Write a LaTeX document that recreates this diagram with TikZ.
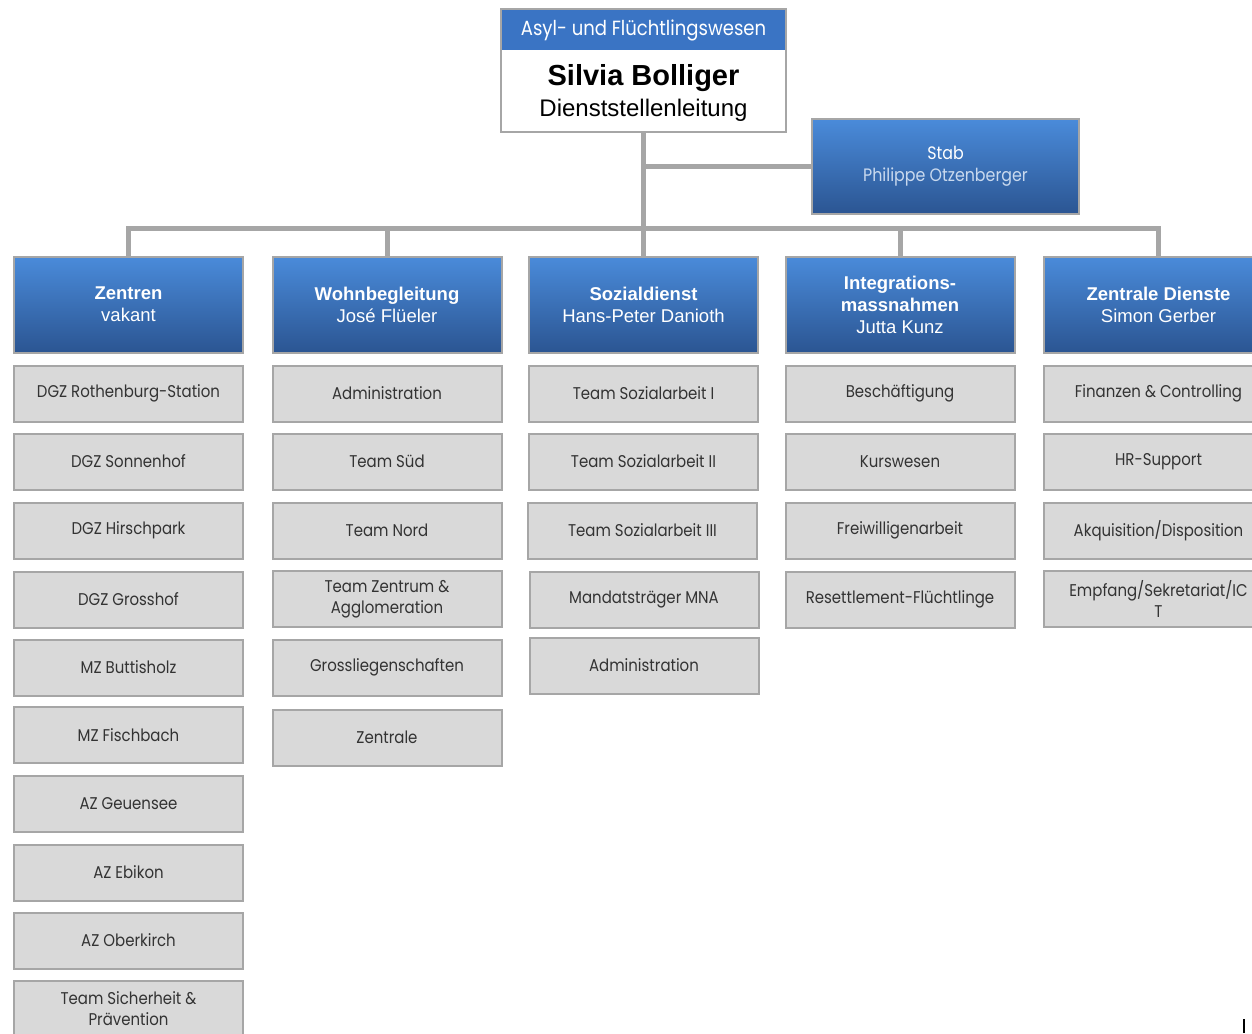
\documentclass[tikz,border=0pt]{standalone}
\usepackage{fontspec}
\setmainfont{Liberation Sans}
\newfontfamily\fut{Poppins}[FakeStretch=0.88]
\definecolor{bandblue}{HTML}{3A74C4}
\definecolor{gtop}{HTML}{4A8BDA}
\definecolor{gbot}{HTML}{2B5592}
\definecolor{boxgrey}{HTML}{D9D9D9}
\definecolor{edgegrey}{HTML}{A6A6A6}
\definecolor{txtgrey}{HTML}{333333}
\definecolor{paleblue}{HTML}{C9D9EE}
\tikzset{
  conn/.style={draw=edgegrey, line width=5pt},
  headbox/.style={draw=edgegrey, line width=2pt, top color=gtop, bottom color=gbot,
    minimum width=229pt, minimum height=96pt, inner sep=0pt, align=center,
    text=white, font=\fontsize{18.5}{22}\selectfont},
  greybox/.style={draw=edgegrey, line width=2pt, fill=boxgrey,
    minimum width=229pt, minimum height=56pt, inner sep=0pt, align=center,
    text=txtgrey, font=\fut\fontsize{17}{21}\selectfont},
}
\begin{document}
\begin{tikzpicture}[x=1pt,y=-1pt]
\useasboundingbox (0,0) rectangle (1252,1033);
\clip (0,0) rectangle (1252,1033);
\fill[white] (0,0) rectangle (1252,1033);

% top box
\node[draw=edgegrey, line width=2pt, fill=white, minimum width=285pt, minimum height=123pt, inner sep=0pt] (top) at (643.5,70.5) {};
\fill[bandblue] (502,10) rectangle (785,50);
\node[text=white, font=\fut\fontsize{20.5}{24}\selectfont, inner sep=0pt] (toptitle) at (643.5,30) {Asyl- und Flüchtlingswesen};
\node[font=\bfseries\fontsize{29}{32}\selectfont, inner sep=0pt] (topname) at (643.5,78.5) {Silvia Bolliger};
\node[font=\fontsize{24}{28}\selectfont, inner sep=0pt] (toprole) at (643.5,110.5) {Dienststellenleitung};

% Stab
\node[draw=edgegrey, line width=2pt, top color=gtop, bottom color=gbot, minimum width=267pt, minimum height=95pt, inner sep=0pt, align=center, font=\fut\fontsize{18}{23}\selectfont, text=white] (stab) at (945.5,166.5) {Stab\\[-1pt]{\color{paleblue}Philippe Otzenberger}};

% headers
\node[headbox] (h1) at (128.5,304.5) {\textbf{Zentren}\\vakant};
\node[headbox] (h2) at (387,304.5) {\textbf{Wohnbegleitung}\\José Flüeler};
\node[headbox] (h3) at (643.5,304.5) {\textbf{Sozialdienst}\\Hans-Peter Danioth};
\node[headbox] (h4) at (900,304.5) {\textbf{Integrations-}\\\textbf{massnahmen}\\Jutta Kunz};
\node[headbox] (h5) at (1158.5,304.5) {\textbf{Zentrale Dienste}\\Simon Gerber};

% connectors
\coordinate (bus) at (643.5,228);
\draw[conn] (top.south) -- (top.south |- bus);
\draw[conn] (top.south |- stab.west) -- (stab.west);
\draw[conn, line cap=rect] (h1.north |- bus) -- (h5.north |- bus);
\foreach \h in {h1,h2,h3,h4,h5} {\draw[conn] (\h.north |- bus) -- (\h.north);}

% column 1
\node[greybox] (a1) at (128.5,393.5) {DGZ Rothenburg-Station};
\node[greybox] (a2) at (128.5,461.5) {DGZ Sonnenhof};
\node[greybox] (a3) at (128.5,530.5) {DGZ Hirschpark};
\node[greybox] (a4) at (128.5,599.5) {DGZ Grosshof};
\node[greybox] (a5) at (128.5,667.5) {MZ Buttisholz};
\node[greybox] (a6) at (128.5,735) {MZ Fischbach};
\node[greybox] (a7) at (128.5,803.5) {AZ Geuensee};
\node[greybox] (a8) at (128.5,872.5) {AZ Ebikon};
\node[greybox] (a9) at (128.5,940.5) {AZ Oberkirch};
\node[greybox] (a10) at (128.5,1009) {Team Sicherheit \&\\Prävention};

% column 2
\node[greybox] (b1) at (387,393.5) {Administration};
\node[greybox] (b2) at (387,461.5) {Team Süd};
\node[greybox] (b3) at (387,530.5) {Team Nord};
\node[greybox] (b4) at (387,599) {Team Zentrum \&\\Agglomeration};
\node[greybox] (b5) at (387,667.5) {Grossliegenschaften};
\node[greybox] (b6) at (387,737.5) {Zentrale};

% column 3
\node[greybox] (c1) at (643.5,393.5) {Team Sozialarbeit I};
\node[greybox] (c2) at (643.5,461.5) {Team Sozialarbeit II};
\node[greybox] (c3) at (642.5,530.5) {Team Sozialarbeit III};
\node[greybox] (c4) at (644,599.5) {Mandatsträger MNA};
\node[greybox] (c5) at (644,665.5) {Administration};

% column 4
\node[greybox] (d1) at (900,393.5) {Beschäftigung};
\node[greybox] (d2) at (900,461.5) {Kurswesen};
\node[greybox] (d3) at (900,530.5) {Freiwilligenarbeit};
\node[greybox] (d4) at (900,599.5) {Resettlement-Flüchtlinge};

% column 5
\node[greybox] (e1) at (1158.5,393.5) {Finanzen \& Controlling};
\node[greybox] (e2) at (1158.5,461.5) {HR-Support};
\node[greybox] (e3) at (1158.5,530.5) {Akquisition/Disposition};
\node[greybox] (e4) at (1158.5,599) {Empfang/Sekretariat/IC\\T};

% stray mark
\draw[line width=2pt] (1244,1019) -- (1244,1033);
\end{tikzpicture}
\end{document}
